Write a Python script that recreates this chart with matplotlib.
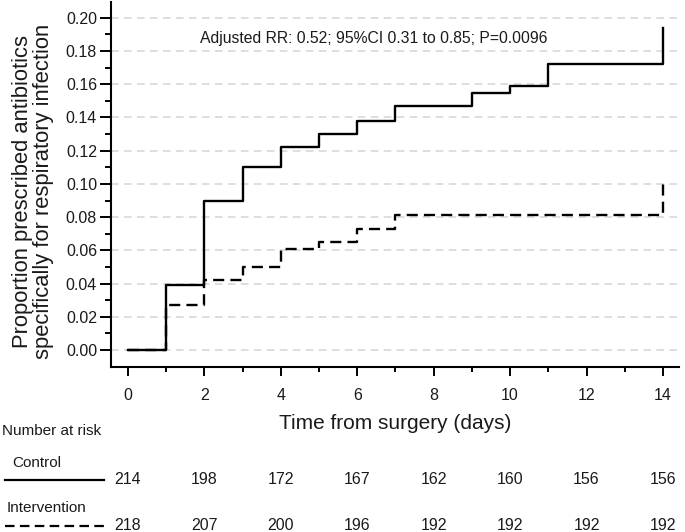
import numpy as np
import matplotlib.pyplot as plt
from matplotlib.lines import Line2D
import matplotlib.transforms as mtransforms

plt.rcParams['font.family'] = ['Liberation Sans', 'DejaVu Sans']

# cumulative proportion prescribed antibiotics (step curves)
control_days = [0, 1, 2, 3, 4, 5, 6, 7, 9, 10, 11, 14]
control_prop = [0, 0.039, 0.090, 0.110, 0.122, 0.130, 0.138, 0.147, 0.155, 0.159, 0.172, 0.194]
interv_days = [0, 1, 2, 3, 4, 5, 6, 7, 14]
interv_prop = [0, 0.027, 0.042, 0.050, 0.061, 0.065, 0.073, 0.081, 0.101]

# number at risk table
risk_days = [0, 2, 4, 6, 8, 10, 12, 14]
risk_control = [214, 198, 172, 167, 162, 160, 156, 156]
risk_interv = [218, 207, 200, 196, 192, 192, 192, 192]

ylab = ['Proportion prescribed antibiotics', 'specifically for respiratory infection']
annot = 'Adjusted RR: 0.52; 95%CI 0.31 to 0.85; P=0.0096'
txt_col = '#1a1a1a'

W, H = 685, 532
fig = plt.figure(figsize=(6.85, 5.32), dpi=100)
ax = fig.add_axes([111 / W, 1 - 367 / H, (679 - 111) / W, 365 / H])

ax.step(control_days, control_prop, where='post', color='black', lw=1.7)
ax.step(interv_days, interv_prop, where='post', color='black', lw=1.7,
        dashes=(4.7, 2.6))

ax.set_xlim(-0.445, 14.42)
ax.set_ylim(-0.0102, 0.2095)
ax.set_xticks(np.arange(0, 15, 2))
ax.set_xticks(np.arange(1, 15, 2), minor=True)
ax.set_yticks(np.arange(0, 0.201, 0.02))
ax.set_yticks(np.arange(0.01, 0.2, 0.02), minor=True)
ax.set_yticklabels(['%.2f' % v for v in np.arange(0, 0.201, 0.02)])

ax.set_axisbelow(True)
ax.yaxis.grid(True, which='major', color='#d4d4d4', lw=1.1, dashes=(5, 3.5))

for s in ['top', 'right']:
    ax.spines[s].set_visible(False)
for s in ['left', 'bottom']:
    ax.spines[s].set_linewidth(1.5)

ax.tick_params(axis='y', which='major', length=8, width=1.4, pad=2,
               labelsize=11.5, labelcolor=txt_col)
ax.tick_params(axis='y', which='minor', length=4.3, width=1.4)
ax.tick_params(axis='x', which='major', length=6.2, width=1.4, pad=9,
               labelsize=11.5, labelcolor=txt_col)
ax.tick_params(axis='x', which='minor', length=3.8, width=1.4)

ax.set_xlabel('Time from surgery (days)', fontsize=15, color=txt_col, labelpad=8)

# two-line y label, one text per line
fig.text(23 / W, 1 - 191 / H, ylab[0], rotation=90, ha='center', va='center',
         fontsize=15.8, color=txt_col)
fig.text(44 / W, 1 - 191 / H, ylab[1], rotation=90, ha='center', va='center',
         fontsize=15.8, color=txt_col)

ax.text(6.44, 0.1873, annot, ha='center', va='center', fontsize=11.3, color=txt_col)

# number at risk
fig.text(2 / W, 1 - 431 / H, 'Number at risk', ha='left', va='center',
         fontsize=11, color=txt_col)
fig.text(12 / W, 1 - 463 / H, 'Control', ha='left', va='center',
         fontsize=11, color=txt_col)
fig.text(7 / W, 1 - 508 / H, 'Intervention', ha='left', va='center',
         fontsize=11, color=txt_col)
fig.add_artist(Line2D([5 / W, 104 / W], [1 - 480 / H, 1 - 480 / H],
                      transform=fig.transFigure, color='black', lw=1.6))
fig.add_artist(Line2D([5 / W, 104 / W], [1 - 526 / H, 1 - 526 / H],
                      transform=fig.transFigure, color='black', lw=1.6,
                      dashes=(4.3, 2.4)))

trans = mtransforms.blended_transform_factory(ax.transData, fig.transFigure)
for d, c, i in zip(risk_days, risk_control, risk_interv):
    ax.text(d, 1 - 480 / H, str(c), transform=trans, ha='center', va='center',
            fontsize=11.5, color=txt_col, clip_on=False)
    ax.text(d, 1 - 525 / H, str(i), transform=trans, ha='center', va='center',
            fontsize=11.5, color=txt_col, clip_on=False)

fig.savefig('out.png', dpi=100)
